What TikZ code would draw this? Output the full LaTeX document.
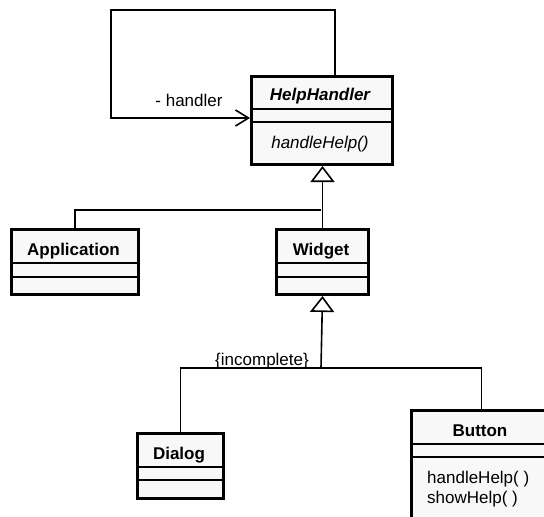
\documentclass[tikz,border=0pt]{standalone}
\usepackage{fontspec}
\setmainfont{Liberation Sans}
\usetikzlibrary{arrows.meta}
\definecolor{boxfill}{RGB}{248,248,248}
\begin{document}
\begin{tikzpicture}[x=1pt,y=-1pt,
  classbox/.style={draw=black, line width=3pt, fill=boxfill, anchor=north west, inner sep=0pt},
  divider/.style={line width=1.8pt},
  conn/.style={line width=1.6pt},
  gen/.style={conn, -{Triangle[length=16pt, width=24pt, fill=white, line width=1.6pt]}},
  assoc/.style={conn, -{Straight Barb[length=13pt, width=16pt, line width=1.6pt]}},
  txt/.style={font=\fontsize{17pt}{20pt}\selectfont, inner sep=0pt, anchor=base},
  title/.style={font=\fontsize{17pt}{20pt}\selectfont\bfseries, inner sep=0pt, anchor=base},
]
\useasboundingbox (0,0) rectangle (544,517);
\clip (0,0) rectangle (544,517);

% ---- classes ----
\node[classbox, minimum width=141pt, minimum height=88pt] (hh) at (250,75) {};
\draw[divider] (hh.west |- 0,109) -- (hh.east |- 0,109);
\draw[divider] (hh.west |- 0,122) -- (hh.east |- 0,122);
\node[title] (hhname) at (320,100) {\itshape HelpHandler};
\node[txt] (hhop) at (320,148) {\itshape handleHelp()};

\node[classbox, minimum width=127pt, minimum height=65pt] (app) at (10,228) {};
\draw[divider] (app.west |- 0,263) -- (app.east |- 0,263);
\draw[divider] (app.west |- 0,277) -- (app.east |- 0,277);
\node[title] (appname) at (73.5,255) {Application};

\node[classbox, minimum width=92pt, minimum height=65pt] (wid) at (275,228) {};
\draw[divider] (wid.west |- 0,263) -- (wid.east |- 0,263);
\draw[divider] (wid.west |- 0,277) -- (wid.east |- 0,277);
\node[title] (widname) at (321,255) {Widget};

\node[classbox, minimum width=86pt, minimum height=65pt] (dlg) at (136,432) {};
\draw[divider] (dlg.west |- 0,467) -- (dlg.east |- 0,467);
\draw[divider] (dlg.west |- 0,480) -- (dlg.east |- 0,480);
\node[title] (dlgname) at (179,459) {Dialog};

\node[classbox, minimum width=140pt, minimum height=130pt] (btn) at (410,409) {};
\draw[divider] (btn.west |- 0,444) -- (btn.east |- 0,444);
\draw[divider] (btn.west |- 0,457) -- (btn.east |- 0,457);
\node[title] (btnname) at (480,436) {Button};
\node[txt, anchor=base west] (btnop1) at (427,483) {handleHelp( )};
\node[txt, anchor=base west] (btnop2) at (427,503) {showHelp( )};

% ---- self association ----
\coordinate (loopA) at (335,10);
\coordinate (loopB) at (111,118);
\draw[assoc] (hh.north -| loopA) -- (loopA) -| (loopB) -- (loopB -| hh.west);
\node[txt] (role) at (189,106) {- handler};

% ---- generalizations ----
\coordinate (j1) at (321,210);
\draw[conn] (app.north) |- (j1);
\draw[gen] (wid.north) -- (wid.north |- hh.south);

\coordinate (j2) at (321,368);
\draw[conn] (dlg.north) |- (btn.north |- j2) -- (btn.north);
\draw[gen] (j2) -- (wid.south);
\node[txt, anchor=base east] (incomplete) at (309,365) {\{incomplete\}};
\end{tikzpicture}
\end{document}
